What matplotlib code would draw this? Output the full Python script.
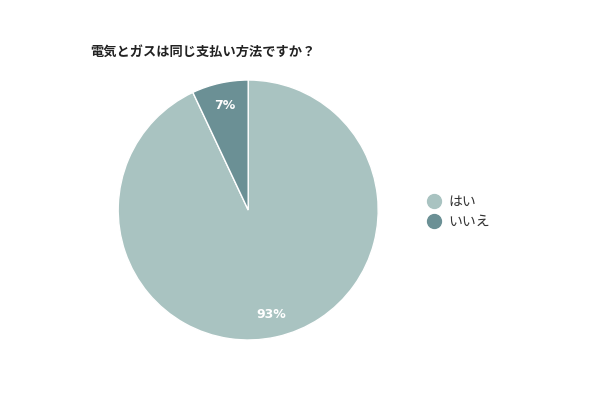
import matplotlib.pyplot as plt
from matplotlib.lines import Line2D

plt.rcParams['font.family'] = ['Noto Sans CJK JP', 'DejaVu Sans']

# Data
labels = ["はい", "いいえ"]
values = [93, 7]
colors = ["#a9c3c1", "#6b9095"]
title = "電気とガスは同じ支払い方法ですか？"

fig = plt.figure(figsize=(6, 4), dpi=100)
ax = fig.add_axes([0.197, 0.15, 0.4333, 0.65])

wedges, texts, autotexts = ax.pie(
    values,
    colors=colors,
    startangle=90,
    counterclock=False,
    autopct="%d%%",
    pctdistance=0.82,
    wedgeprops={"edgecolor": "white", "linewidth": 1},
    textprops={"color": "white", "fontsize": 9, "fontweight": "bold",
               "family": ["DejaVu Sans"]},
)
ax.set_xlim(-1, 1)
ax.set_ylim(-1, 1)
ax.set_aspect("equal")

fig.text(0.15, 0.87, title, fontsize=9.5, fontweight="bold", color="#222222",
         ha="left", va="center")

handles = [Line2D([0], [0], marker="o", linestyle="", markersize=10,
                  markerfacecolor=c, markeredgecolor=c) for c in colors]
fig.legend(handles, labels, loc="center left", bbox_to_anchor=(0.68, 0.47),
           frameon=False, fontsize=10, handletextpad=0.0, labelspacing=0.45,
           labelcolor="#333333")

plt.savefig("out.png", dpi=100)
